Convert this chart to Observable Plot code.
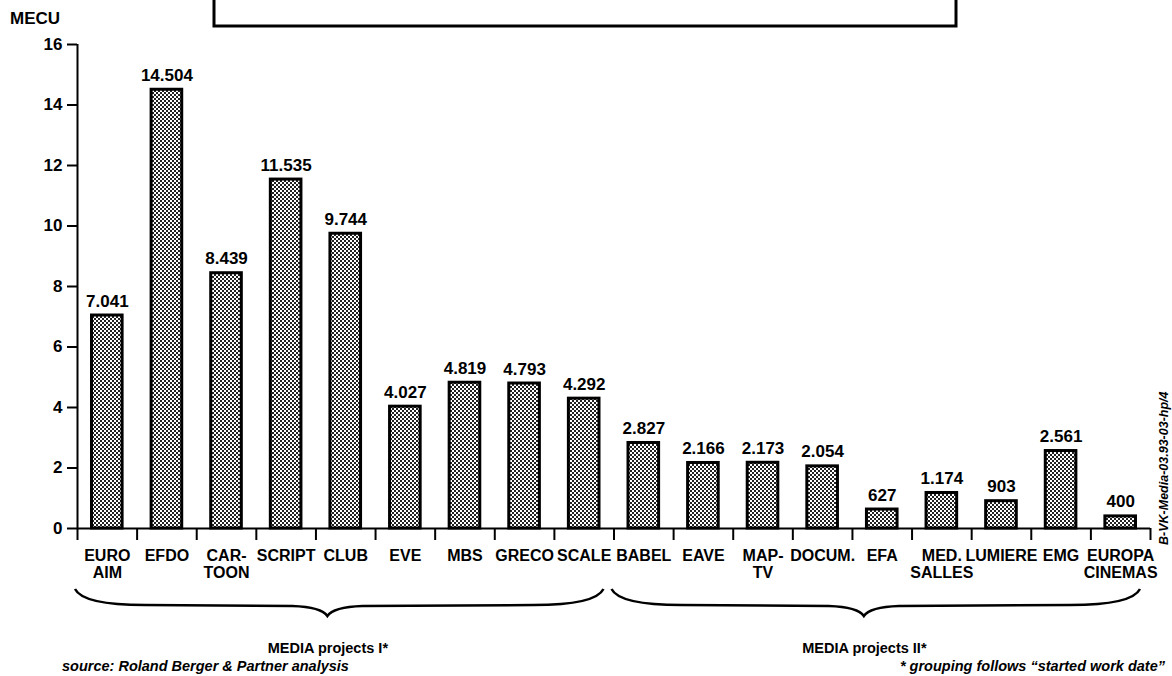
<!DOCTYPE html>
<html>
<head>
<meta charset="utf-8">
<script src="https://cdn.jsdelivr.net/npm/d3@7"></script>
<script src="https://cdn.jsdelivr.net/npm/@observablehq/plot@0.6"></script>
<style>
  html, body { margin: 0; padding: 0; background: #fff; }
  #chart svg { display: block; }
</style>
</head>
<body>
<div id="chart"></div>
<script>
// MEDIA programme projects, budget in thousand ECU (axis shows MECU)
const categories = [
  "EURO\nAIM", "EFDO", "CAR-\nTOON", "SCRIPT", "CLUB", "EVE", "MBS", "GRECO", "SCALE",
  "BABEL", "EAVE", "MAP-\nTV", "DOCUM.", "EFA", "MED.\nSALLES", "LUMIERE", "EMG", "EUROPA\nCINEMAS"
];
const budgetKECU = [
  7041, 14504, 8439, 11535, 9744, 4027, 4819, 4793, 4292,
  2827, 2166, 2173, 2054, 627, 1174, 903, 2561, 400
];
const yTicks = [0, 2, 4, 6, 8, 10, 12, 14, 16];
const groupNames = ["MEDIA projects I*", "MEDIA projects II*"];
const groupStart = [0, 9];
const groupEnd = [9, 18];

// European number format: "." as thousands separator
const fmt = d3.formatLocale({decimal: ",", thousands: ".", grouping: [3], currency: ["", ""]}).format(",d");

const data = categories.map((name, i) => ({
  i, name, kecu: budgetKECU[i], mecu: budgetKECU[i] / 1000, label: fmt(budgetKECU[i])
}));
// the brace tip and group title sit a little left of the group's middle
const groups = groupNames.map((label, k) => ({
  label, from: groupStart[k], to: groupEnd[k], tip: (groupStart[k] + groupEnd[k]) / 2 - 0.3
}));

const FONT = "'Liberation Sans', Arial, Helvetica, sans-serif";

// curly brace under each project group
function braces(index, scales) {
  const g = d3.create("svg:g").attr("fill", "none").attr("stroke", "black").attr("stroke-width", 2.5);
  for (const d of groups) {
    const x0 = scales.x(d.from) - 2, x1 = scales.x(d.to) - 10;
    const m = scales.x(d.tip);
    const yEnd = 589, yMid = 605, yTip = 616;
    const p = d3.path();
    p.moveTo(x0, yEnd);
    p.quadraticCurveTo(x0 + 8, yMid, x0 + 70, yMid);
    p.lineTo(m - 35, yMid + 1);
    p.quadraticCurveTo(m - 6, yMid + 2, m, yTip);
    p.quadraticCurveTo(m + 6, yMid + 2, m + 35, yMid + 1);
    p.lineTo(x1 - 70, yMid);
    p.quadraticCurveTo(x1 - 8, yMid, x1, yEnd);
    g.append("path").attr("d", p.toString());
  }
  return g.node();
}

const chart = Plot.plot({
  width: 1172,
  height: 676,
  marginLeft: 77,
  marginRight: 22,
  marginTop: 44,
  marginBottom: 148,
  style: {fontFamily: FONT, color: "black", background: "white"},
  x: {domain: [0, 18], axis: null},
  y: {domain: [0, 16], axis: null},
  marks: [
    Plot.rectY(data, {
      x1: "i", x2: d => d.i + 1, y: "mecu",
      insetLeft: 14.5, insetRight: 14.5,
      fill: "url(#dither)", stroke: "black", strokeWidth: 3
    }),
    Plot.text(data, {
      x: d => d.i + 0.5, y: "mecu", text: "label",
      lineAnchor: "bottom", dy: -9,
      fontSize: 17, fontWeight: "bold", fill: "black"
    }),
    // axes
    Plot.axisY(yTicks, {
      anchor: "left", tickSize: 10, tickPadding: 5, strokeWidth: 2,
      fontSize: 17, fontWeight: "bold", label: null, tickFormat: d => d
    }),
    Plot.axisX(d3.range(19), {
      anchor: "bottom", tickSize: 12, strokeWidth: 2, tickFormat: () => "", label: null
    }),
    Plot.ruleX([0], {y1: 0, y2: 16, strokeWidth: 2}),
    Plot.ruleY([0], {x1: 0, x2: 18, strokeWidth: 2}),
    // category names under the bars
    Plot.text(data, {
      x: d => d.i + 0.5, y: 0, text: "name",
      lineAnchor: "top", dy: 20, lineHeight: 1.08,
      fontSize: 16, fontWeight: "bold", fill: "black"
    }),
    braces,
    Plot.text(groups, {
      x: "tip", y: 0, text: "label",
      lineAnchor: "bottom", dy: 124,
      fontSize: 14.5, fontWeight: "bold", fill: "black"
    })
  ]
});

const svg = d3.select(chart);
svg.insert("defs", ":first-child").html(`
  <pattern id="dither" width="4" height="4" patternUnits="userSpaceOnUse">
    <rect width="4" height="4" fill="#ffffff"></rect>
    <rect width="2" height="2" fill="#222222"></rect>
    <rect x="2" y="2" width="2" height="2" fill="#222222"></rect>
  </pattern>`);

// title frame (upper part runs off the top edge)
svg.append("rect")
  .attr("x", 214).attr("y", -10).attr("width", 742).attr("height", 36)
  .attr("fill", "none").attr("stroke", "black").attr("stroke-width", 3);

// free annotations, left-anchored unless stated
const notes = svg.append("g")
  .attr("font-family", FONT).attr("font-weight", "bold").attr("text-anchor", "start").attr("fill", "black");

// unit label
notes.append("text")
  .attr("x", 10).attr("y", 24).attr("font-size", 17)
  .text("MECU");

// source and footnote
notes.append("text")
  .attr("x", 62).attr("y", 671).attr("font-size", 14.5).attr("font-style", "italic")
  .text("source: Roland Berger & Partner analysis");
notes.append("text")
  .attr("x", 1165).attr("y", 671).attr("text-anchor", "end")
  .attr("font-size", 14.5).attr("font-style", "italic")
  .text("* grouping follows \u201Cstarted work date\u201D");

// document reference, written vertically along the right edge
notes.append("text")
  .attr("transform", "translate(1168,545) rotate(-90)")
  .attr("font-size", 12.5).attr("font-style", "italic")
  .text("B-VK-Media-03.93-03-hp/4");

document.getElementById("chart").appendChild(chart);
</script>
</body>
</html>
